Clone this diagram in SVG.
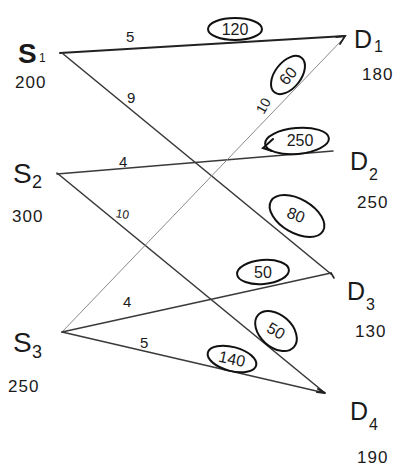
<svg xmlns="http://www.w3.org/2000/svg" width="403" height="468" viewBox="0 0 403 468">
<style>
.t{font-family:"Liberation Sans","DejaVu Sans",sans-serif;fill:#1a1a1a}
.big{font-size:28px}
.dd{font-size:25px}
.sub{font-size:16px}
.num{font-size:17px;letter-spacing:1px}
.lab{font-size:15px}
.ov{fill:none;stroke:#111;stroke-width:2}
.ovt{font-size:16px;text-anchor:middle;dominant-baseline:central}
.ln{stroke:#3a3a3a;stroke-width:1.6;fill:none;stroke-linecap:round}
.thin{stroke:#8a8a8a;stroke-width:1}
</style>
<rect width="403" height="468" fill="#fff"/>
<g id="connectors">
  <line class="ln" x1="60" y1="53" x2="345" y2="36" style="stroke:#222;stroke-width:2"/>
  <line class="ln" x1="62" y1="53" x2="331" y2="274"/>
  <line class="ln" x1="57" y1="174" x2="333" y2="151"/>
  <line class="ln" x1="57" y1="173" x2="325" y2="393"/>
  <line class="ln thin" x1="62" y1="332" x2="342" y2="40"/>
  <line class="ln" x1="62" y1="332" x2="331" y2="273"/>
  <line class="ln" x1="62" y1="332" x2="325" y2="393"/>
  <path class="ln" d="M336,37 L345,36 L340,44" style="stroke:#222;stroke-width:1.8"/>
  <path class="ln" d="M273,139 L263,148 L272,151" style="stroke:#111;stroke-width:2"/>
  <path class="ln" d="M331,273 L334,278" style="stroke:#222"/>
  <path class="ln" d="M318,389 L325,393 L317,392" style="stroke:#222;stroke-width:2"/>
  <text class="t lab" x="126" y="42">5</text>
  <text class="t lab" x="127" y="103">9</text>
  <text class="t lab" x="119" y="167">4</text>
  <text class="t" x="116" y="218" style="font-size:12px" transform="rotate(10 122 213)">10</text>
  <text class="t" x="255" y="112" style="font-size:14px" transform="rotate(-60 262 106)">10</text>
  <text class="t lab" x="123" y="307">4</text>
  <text class="t lab" x="140" y="348">5</text>
  <ellipse class="ov" cx="235" cy="29" rx="27" ry="11"/>
  <text class="t ovt" x="235" y="29">120</text>
  <ellipse class="ov" cx="288" cy="75" rx="22" ry="13" transform="rotate(-52 288 75)"/>
  <text class="t ovt" x="288" y="76" transform="rotate(-50 288 76)">60</text>
  <ellipse class="ov" cx="297" cy="141" rx="32" ry="13" transform="rotate(-5 297 141)"/>
  <text class="t ovt" x="300" y="140">250</text>
  <ellipse class="ov" cx="297" cy="216" rx="30" ry="17" transform="rotate(30 297 216)"/>
  <text class="t ovt" x="296" y="215" transform="rotate(20 296 215)">80</text>
  <ellipse class="ov" cx="263" cy="272" rx="26" ry="12" transform="rotate(-5 263 272)"/>
  <text class="t ovt" x="263" y="272">50</text>
  <ellipse class="ov" cx="276" cy="331" rx="24" ry="16" transform="rotate(42 276 331)"/>
  <text class="t ovt" x="276" y="331" transform="rotate(30 276 331)">50</text>
  <ellipse class="ov" cx="232" cy="359" rx="25" ry="12" transform="rotate(15 232 359)"/>
  <text class="t ovt" x="232" y="359" transform="rotate(12 232 359)">140</text>
</g>
<g id="S1">
  <text class="t big" x="18" y="63" style="font-weight:bold">S</text>
  <text class="t sub" x="39" y="62" style="font-size:12px">1</text>
  <text class="t num" x="15" y="88">200</text>
</g>
<g id="S2">
  <text class="t big" x="13" y="183">S</text>
  <text class="t sub" x="32" y="188" style="font-size:18px">2</text>
  <text class="t num" x="12" y="222">300</text>
</g>
<g id="S3">
  <text class="t big" x="13" y="352">S</text>
  <text class="t sub" x="32" y="358" style="font-size:18px">3</text>
  <text class="t num" x="8" y="392">250</text>
</g>
<g id="D1">
  <text class="t dd" x="354" y="48">D</text>
  <text class="t sub" x="374" y="52">1</text>
  <text class="t num" x="362" y="80">180</text>
</g>
<g id="D2">
  <text class="t dd" x="350" y="170">D</text>
  <text class="t sub" x="369" y="180">2</text>
  <text class="t num" x="357" y="208">250</text>
</g>
<g id="D3">
  <text class="t dd" x="347" y="300">D</text>
  <text class="t sub" x="366" y="310">3</text>
  <text class="t num" x="355" y="337">130</text>
</g>
<g id="D4">
  <text class="t dd" x="350" y="420">D</text>
  <text class="t sub" x="369" y="430">4</text>
  <text class="t num" x="357" y="463">190</text>
</g>
</svg>
